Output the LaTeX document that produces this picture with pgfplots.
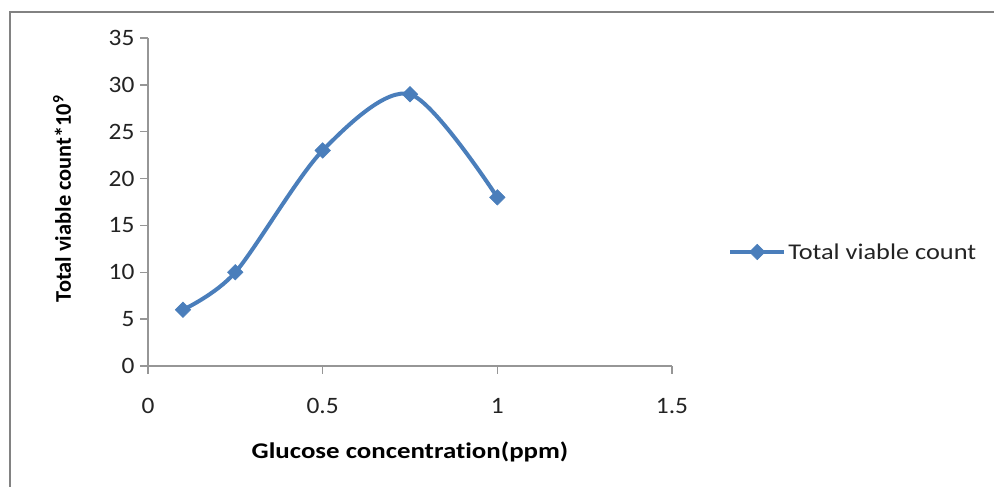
\documentclass[border=0pt]{standalone}
\usepackage{fontspec}
\setmainfont{Carlito}[FakeStretch=1.15, Ligatures=NoCommon]
\newfontfamily\tickfont{Carlito}[FakeStretch=1.08, Ligatures=NoCommon]
\newfontfamily\xlabfont{Carlito}[FakeStretch=1.2, Ligatures=NoCommon]
\newfontfamily\ylabfont{Carlito}[Ligatures=NoCommon]
\newfontfamily\legfont{Carlito}[FakeStretch=1.17, Ligatures=NoCommon]
\usepackage{pgfplots}
\pgfplotsset{compat=1.18}
\definecolor{xlblue}{RGB}{74,126,187}
\definecolor{txt}{RGB}{35,35,35}
\definecolor{axgray}{RGB}{150,150,150}
\definecolor{frame}{RGB}{130,130,130}
\begin{document}
\begin{tikzpicture}[x=1pt,y=1pt]
\useasboundingbox (0,0) rectangle (994,487);
\draw[frame, line width=2pt] (10,0) -- (10,475) -- (994,475);
\begin{axis}[
  at={(148pt,121pt)}, anchor=south west,
  scale only axis, width=524pt, height=328pt,
  xmin=0, xmax=1.5, ymin=0, ymax=35,
  xtick={0,0.5,1,1.5}, ytick={0,5,...,35},
  xticklabels={0,0.5,1,1.5},
  axis x line*=bottom, axis y line*=left,
  x axis line style={-}, y axis line style={-},
  axis line style={axgray, line width=1.5pt},
  tick style={axgray, line width=1.5pt},
  tick align=outside, major tick length=8pt,
  /pgf/number format/assume math mode=true,
  ticklabel style={font=\tickfont\fontsize{23.5}{27}\selectfont, text=txt},
  xticklabel style={yshift=-21pt},
  yticklabel style={xshift=-2pt},
  xlabel={\xlabfont\bfseries Glucose concentration(ppm)},
  ylabel={\ylabfont\bfseries Total viable count*10\textsuperscript{9}},
  label style={font=\fontsize{22.4}{26}\selectfont, text=black},
  xlabel style={at={(axis description cs:0.5,-0.262)}, anchor=center},
  ylabel style={at={(axis description cs:-0.164,0.51)}, anchor=center, rotate=0},
  legend style={at={(axis description cs:1.107,0.3476)}, anchor=west, draw=none, inner sep=0pt,
    font=\legfont\fontsize{22.5}{26}\selectfont, text=txt, fill=none},
  legend cell align=left,
  legend image code/.code={\draw[#1, mark repeat=2, mark phase=2] plot coordinates {(0pt,0pt) (27pt,0pt) (54pt,0pt)};},
]
\addplot[xlblue, line width=4pt, smooth, tension=0.5, mark=square*, mark size=5.5pt,
  mark options={rotate=45, fill=xlblue, draw=xlblue, line width=0.5pt}]
  coordinates {(0.1,6) (0.25,10) (0.5,23) (0.75,29) (1,18)};
\addlegendentry{Total viable count}
\end{axis}
\end{tikzpicture}
\end{document}
